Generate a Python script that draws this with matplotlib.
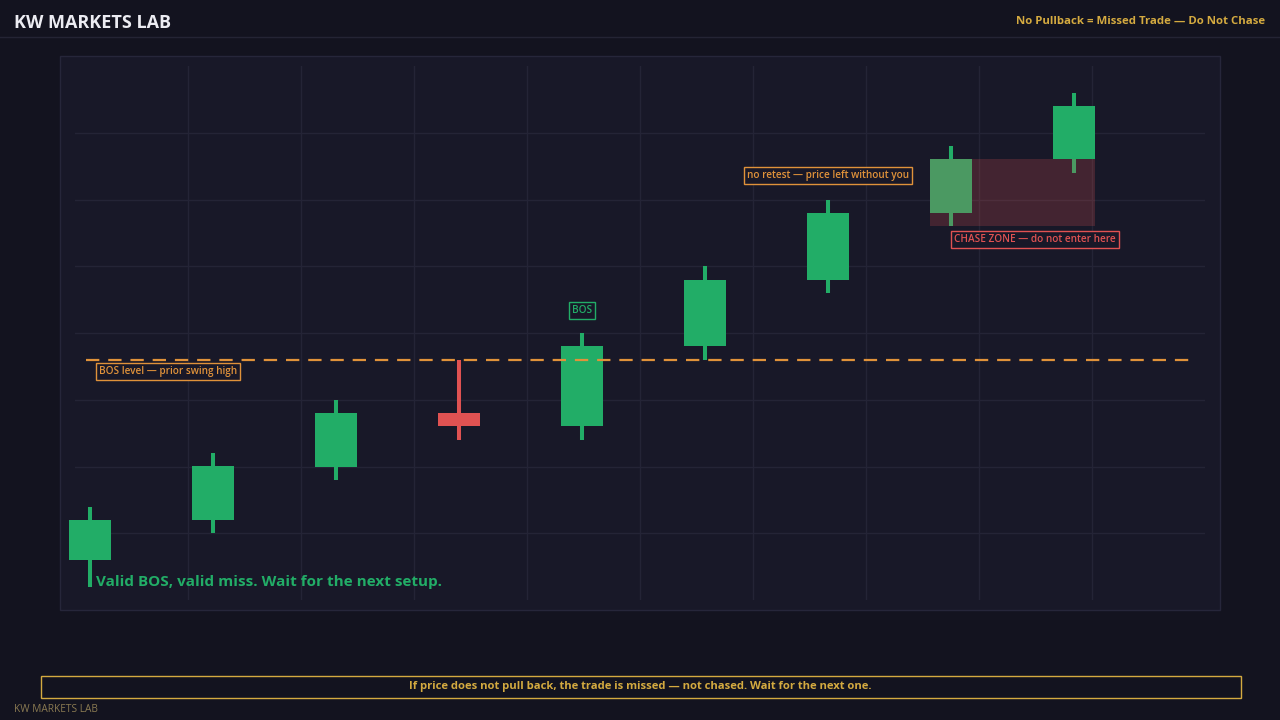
import matplotlib
matplotlib.use("Agg")
import matplotlib.pyplot as plt
from matplotlib.patches import Rectangle
import numpy as np

plt.rcParams['font.family'] = ['Open Sans', 'DejaVu Sans']

# candle data (price units, one grid row = 1.0)
opens = [100.6, 101.2, 102.0, 102.8, 102.6, 103.8, 104.8, 105.8, 106.6]
closes = [101.2, 102.0, 102.8, 102.6, 103.8, 104.8, 105.8, 106.6, 107.4]
highs = [101.4, 102.2, 103.0, 103.6, 104.0, 105.0, 106.0, 106.8, 107.6]
lows = [100.2, 101.0, 101.8, 102.4, 102.4, 103.6, 104.6, 105.6, 106.4]

bos_level = 103.6
bos_candle = 4
retest_candle = 6
chase_start, chase_end = 7, 8
chase_low, chase_high = 105.6, 106.6

BG = '#13131f'
PANEL = '#181828'
GRID = '#242436'
GREEN = '#22ad67'
RED = '#e05252'
ORANGE = '#e0923a'
GOLD = '#d4aa40'

fig = plt.figure(figsize=(12.8, 7.2), dpi=100, facecolor=BG)

# header
fig.text(14 / 1280, 1 - 23 / 720, 'KW MARKETS LAB', color='#ececf2', fontsize=13,
         fontweight='bold', va='center', ha='left')
fig.text(1265 / 1280, 1 - 22 / 720, 'No Pullback = Missed Trade \u2014 Do Not Chase',
         color=GOLD, fontsize=8.2, fontweight='bold', va='center', ha='right')
fig.add_artist(plt.Line2D([0, 1], [1 - 36.5 / 720] * 2, color='#242434', lw=1))

# chart panel
fig.add_artist(Rectangle((60 / 1280, 1 - 610 / 720), 1160 / 1280, 554 / 720,
                         transform=fig.transFigure, facecolor=PANEL,
                         edgecolor='#26263a', lw=1, zorder=0))

ax = fig.add_axes([75 / 1280, 120 / 720, 1130 / 1280, 534 / 720])
ax.set_facecolor('none')
x0, x1 = -0.122, 9.065
y0, y1 = 100, 108
ax.set_xlim(x0, x1)
ax.set_ylim(y0, y1)
ax.set_xticks(np.linspace(x0, x1, 11)[1:-1])
ax.set_yticks(np.arange(y0 + 1, y1))
ax.grid(True, color=GRID, lw=1)
ax.tick_params(length=0, labelbottom=False, labelleft=False)
for s in ax.spines.values():
    s.set_visible(False)

xs = np.arange(len(opens))
colors = [GREEN if c >= o else RED for o, c in zip(opens, closes)]
ax.vlines(xs, lows, highs, colors=colors, lw=2.9, zorder=3, clip_on=False)
ax.bar(xs, np.abs(np.array(closes) - np.array(opens)),
       bottom=np.minimum(opens, closes), width=0.335, color=colors, zorder=4,
       clip_on=False)

# BOS level
label_kw = dict(fontsize=7.2, fontweight='semibold', va='center', zorder=6)
ax.axhline(bos_level, xmin=0.01, xmax=0.99, color=ORANGE, lw=1.6,
           ls=(0, (6, 4)), zorder=5)
ax.text(0.075, bos_level - 0.17, 'BOS level \u2014 prior swing high', color=ORANGE,
        ha='left', bbox=dict(boxstyle='square,pad=0.3', fc=PANEL, ec=ORANGE, lw=1),
        **label_kw)
ax.text(bos_candle, highs[bos_candle] + 0.34, 'BOS', color=GREEN, ha='center',
        bbox=dict(boxstyle='square,pad=0.3', fc=PANEL, ec=GREEN, lw=1), **label_kw)
ax.text(retest_candle, highs[retest_candle] + 0.36,
        'no retest \u2014 price left without you', color=ORANGE, ha='center',
        bbox=dict(boxstyle='square,pad=0.3', fc=PANEL, ec=ORANGE, lw=1), **label_kw)

# chase zone
ax.add_patch(Rectangle((chase_start - 0.1675, chase_low),
                       chase_end - chase_start + 0.335, chase_high - chase_low,
                       facecolor=RED, alpha=0.22, lw=0, zorder=5))
ax.text(chase_start + 0.025, chase_low - 0.2, 'CHASE ZONE \u2014 do not enter here',
        color=RED, ha='left',
        bbox=dict(boxstyle='square,pad=0.3', fc=PANEL, ec=RED, lw=1), **label_kw)

ax.text(0.05, 100.27, 'Valid BOS, valid miss. Wait for the next setup.',
        color=GREEN, fontsize=11, fontweight='bold', va='center', ha='left', zorder=6)

# bottom note
fig.text(640 / 1280, 1 - 687 / 720,
         'If price does not pull back, the trade is missed \u2014 not chased. Wait for the next one.',
         color=GOLD, fontsize=8.1, fontweight='bold', va='center', ha='center')
fig.add_artist(Rectangle((40.5 / 1280, 1 - 698 / 720), 1200 / 1280, 22 / 720,
                         transform=fig.transFigure, facecolor='none',
                         edgecolor=GOLD, lw=1))
fig.text(14 / 1280, 1 - 710 / 720, 'KW MARKETS LAB', color='#8a7a52',
         fontsize=7.3, va='center', ha='left')

fig.savefig('out.png', dpi=100, facecolor=BG)
